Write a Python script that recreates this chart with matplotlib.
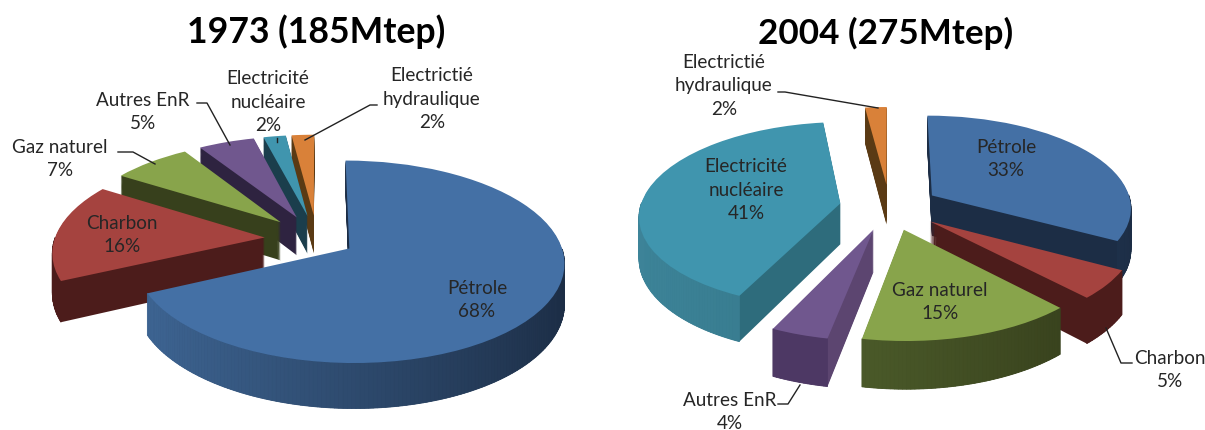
import matplotlib
matplotlib.use('Agg')
import matplotlib.pyplot as plt
import matplotlib.transforms as mtransforms
import numpy as np

# Data
labels_1973 = ['Pétrole', 'Charbon', 'Gaz naturel', 'Autres EnR', 'Electricité\nnucléaire', 'Electrictié\nhydraulique']
values_1973 = [68, 16, 7, 5, 2, 2]
labels_2004 = ['Pétrole', 'Charbon', 'Gaz naturel', 'Autres EnR', 'Electricité\nnucléaire', 'Electrictié\nhydraulique']
values_2004 = [33, 5, 15, 4, 41, 2]
title_1973 = '1973 (185Mtep)'
title_2004 = '2004 (275Mtep)'

# Styles: top face, cut face, wall colour on the left and on the right
top_colors = ['#4470a5', '#a5433f', '#88a44b', '#70578e', '#4095ae', '#d98139']
cut_1973 = ['#1c2d45', '#4c1c1b', '#37401c', '#2e2340', '#1b3e4c', '#5a3a14']
cut_2004 = ['#1c2d45', '#4c1c1b', '#38411e', '#5c4570', '#2e6c7c', '#5a3a14']
wall_left = ['#3f6796', '#4c1c1b', '#5a6e33', '#4f3a66', '#3d8499', '#5a3a14']
wall_right = ['#1c2d45', '#4c1c1b', '#333b1a', '#4a3560', '#2e6c7c', '#5a3a14']

plt.rcParams['font.family'] = ['Lato', 'DejaVu Sans']


class Perspective(mtransforms.Transform):
    # unit pie circle -> pixels, far side smaller than near side
    input_dims = 2
    output_dims = 2
    is_separable = False

    def __init__(self, cx, cy, rx, ry, p, drop):
        super().__init__()
        self.cx, self.cy, self.rx, self.ry, self.p, self.drop = cx, cy, rx, ry, p, drop

    def transform_non_affine(self, xy):
        xy = np.asarray(xy, dtype=float)
        w = 1 + self.p * xy[:, 1]
        px = self.cx + self.rx * xy[:, 0] / w
        py = self.cy - self.ry * xy[:, 1] / w + self.drop / w
        return np.column_stack([px, py])


def draw_pie(ax, values, explode, order, cuts, cx, cy, rx, ry, p, depth):
    # the cut faces: same pie drawn many times, going up
    for z in np.arange(depth, 0, -1.0):
        wedges, _ = ax.pie(values, explode=explode, colors=cuts, startangle=90, counterclock=False)
        tr = Perspective(cx, cy, rx, ry, p, z)
        for i, w in enumerate(wedges):
            w.set_transform(tr + ax.transData)
            w.set_zorder(10 + order[i] * 10)

    # the top faces
    wedges, _ = ax.pie(values, explode=explode, colors=top_colors, startangle=90, counterclock=False)
    top = Perspective(cx, cy, rx, ry, p, 0)
    low = Perspective(cx, cy, rx, ry, p, depth)
    for i, w in enumerate(wedges):
        w.set_transform(top + ax.transData)
        w.set_zorder(12 + order[i] * 10)

        # outer wall, small quads with a left to right gradient, front part only
        th = np.radians(np.linspace(w.theta1, w.theta2, max(int(w.theta2 - w.theta1), 2) + 1))
        pts = np.column_stack([w.center[0] + w.r * np.cos(th), w.center[1] + w.r * np.sin(th)])
        up = top.transform_non_affine(pts)
        dn = low.transform_non_affine(pts)
        c0 = np.array(matplotlib.colors.to_rgb(wall_left[i]))
        c1 = np.array(matplotlib.colors.to_rgb(wall_right[i]))
        for k in range(len(th) - 1):
            if np.sin(th[k]) + np.sin(th[k + 1]) > 0:
                continue
            t = (np.cos(th[k]) + 1) / 2
            quad = np.vstack([up[k], up[k + 1], dn[k + 1], dn[k]])
            ax.fill(quad[:, 0], quad[:, 1], color=c0 + (c1 - c0) * t, lw=0.6, zorder=11 + order[i] * 10)


fig = plt.figure(figsize=(12.05, 4.30), dpi=100)
ax = fig.add_axes([0, 0, 1, 1])

# 1973
draw_pie(ax, values_1973, [0.18, 0.25, 0.25, 0.25, 0.25, 0.25], [5, 4, 3, 2, 1, 0], cut_1973,
         317, 239, 210, 97, 0.13, 39)
# 2004
draw_pie(ax, values_2004, [0.25, 0.25, 0.25, 0.25, 0.25, 0.25], [1, 3, 5, 4, 2, 0], cut_2004,
         889.5, 207, 200, 92, 0.12, 41)

ax.set_aspect('auto')
ax.set_xlim(0, 1205)
ax.set_ylim(430, 0)
ax.axis('off')

# Text
text_color = '#262626'
fs = 13.6


def put_label(x, y, name, value):
    ax.text(x, y, name + '\n' + str(value) + '%', ha='center', va='center', fontsize=fs,
            color=text_color, linespacing=1.48, zorder=200)


pos_1973 = [(477, 300), (122, 235), (60, 159), (143, 112), (268, 102), (432, 99)]
pos_2004 = [(1006, 159), (1170, 370), (940, 302), (730, 412), (746, 190), (724, 86)]
for i in range(6):
    put_label(pos_1973[i][0], pos_1973[i][1], labels_1973[i], values_1973[i])
    put_label(pos_2004[i][0], pos_2004[i][1], labels_2004[i], values_2004[i])

ax.text(316, 32, title_1973, ha='center', va='center', fontsize=25.6, fontweight='bold', color='black', zorder=200)
ax.text(886, 33, title_2004, ha='center', va='center', fontsize=25.2, fontweight='bold', color='black', zorder=200)

# Leader lines
leaders = [
    ([118, 133, 155], [152, 152, 164]),
    ([197, 207, 230], [103, 103, 145]),
    ([277, 277], [138, 142]),
    ([377, 370, 305], [105, 105, 140]),
    ([778, 785, 878], [92, 92, 108]),
    ([778, 788, 800], [404, 404, 385]),
    ([1106, 1121, 1132], [328, 363, 363]),
]
for lx, ly in leaders:
    ax.plot(lx, ly, color='#222222', lw=1.0, zorder=190)

fig.savefig('out.png', dpi=100, facecolor='white')
